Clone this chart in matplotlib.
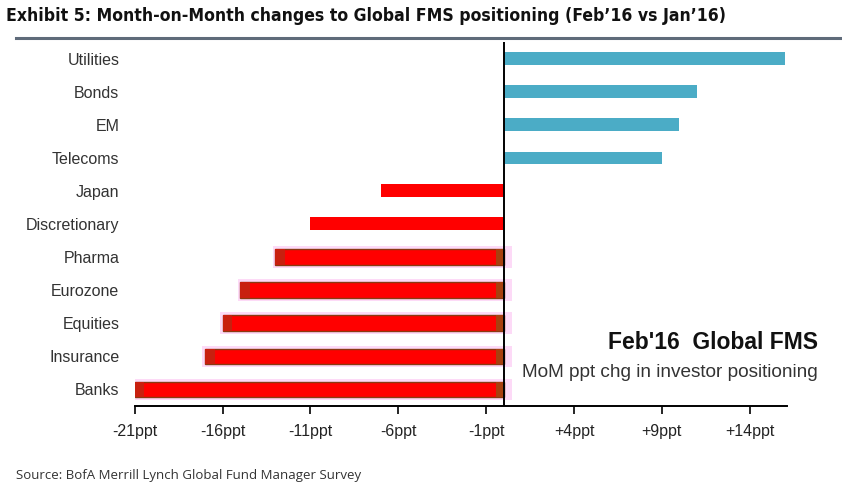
import matplotlib.pyplot as plt
import numpy as np

categories = ['Utilities', 'Bonds', 'EM', 'Telecoms', 'Japan', 'Discretionary',
              'Pharma', 'Eurozone', 'Equities', 'Insurance', 'Banks']
values = [16, 11, 10, 9, -7, -11, -13, -15, -16, -17, -21]
tick_vals = [-21, -16, -11, -6, -1, 4, 9, 14]
tick_labels = ['-21ppt', '-16ppt', '-11ppt', '-6ppt', '-1ppt', '+4ppt', '+9ppt', '+14ppt']

blue = '#4BACC6'
red = '#FF0000'
arial = 'Liberation Sans'

fig = plt.figure(figsize=(8.42, 4.94), dpi=100)
ax = fig.add_axes([0.16, 0.1787, 0.7743, 0.7363])

y = np.arange(len(categories))
for i, v in enumerate(values):
    if v > 0:
        ax.barh(i, v, height=0.375, color=blue, zorder=3)
    elif i >= 6:
        # pink halo + dark ends like the original rendering
        ax.barh(i, v - 0.6, left=0.45, height=0.64, color='#FDDAF7', zorder=2)
        ax.barh(i, v, height=0.46, color=red, edgecolor='#8A3A12', linewidth=1.0, zorder=3)
        ax.barh(i, -0.45, height=0.46, color='#A8400F', zorder=4)
        ax.barh(i, 0.55, left=v, height=0.46, color='#C8200F', zorder=4)
    else:
        ax.barh(i, v, height=0.4, color=red, zorder=3)

ax.axvline(0, color='black', lw=1.4, zorder=5)

ax.set_xlim(-21, 16.1)
ax.set_ylim(10.5, -0.5)
ax.set_yticks(y)
ax.set_yticklabels(categories, fontsize=11.5, color='#333333', family=arial)
ax.tick_params(axis='y', length=0, pad=11)
ax.set_xticks(tick_vals)
ax.set_xticklabels(tick_labels, fontsize=11.5, color='#222222', family=arial)
ax.tick_params(axis='x', direction='out', length=6, width=1.2, pad=7)

for s in ['left', 'top', 'right']:
    ax.spines[s].set_visible(False)
ax.spines['bottom'].set_linewidth(1.4)

fig.text(0.9715, 0.307, "Feb'16  Global FMS", ha='right', va='center',
         fontsize=16.5, fontweight='bold', color='#111111', family=arial)
fig.text(0.9715, 0.245, 'MoM ppt chg in investor positioning', ha='right', va='center',
         fontsize=13.7, color='#333333', family=arial)

fig.text(0.007, 0.967, "Exhibit 5: Month-on-Month changes to Global FMS positioning (Feb\u201916 vs Jan\u201916)",
         fontsize=12.6, fontweight='bold', fontstretch='condensed', color='#111111', va='center')
fig.add_artist(plt.Line2D([0.019, 1.0], [0.924, 0.924], color='#5F6B7A', lw=2.2))
fig.text(0.019, 0.038, 'Source: BofA Merrill Lynch Global Fund Manager Survey',
         fontsize=9.5, color='#333333', va='center', family='Open Sans')

fig.savefig('out.png', dpi=100, facecolor='white')
